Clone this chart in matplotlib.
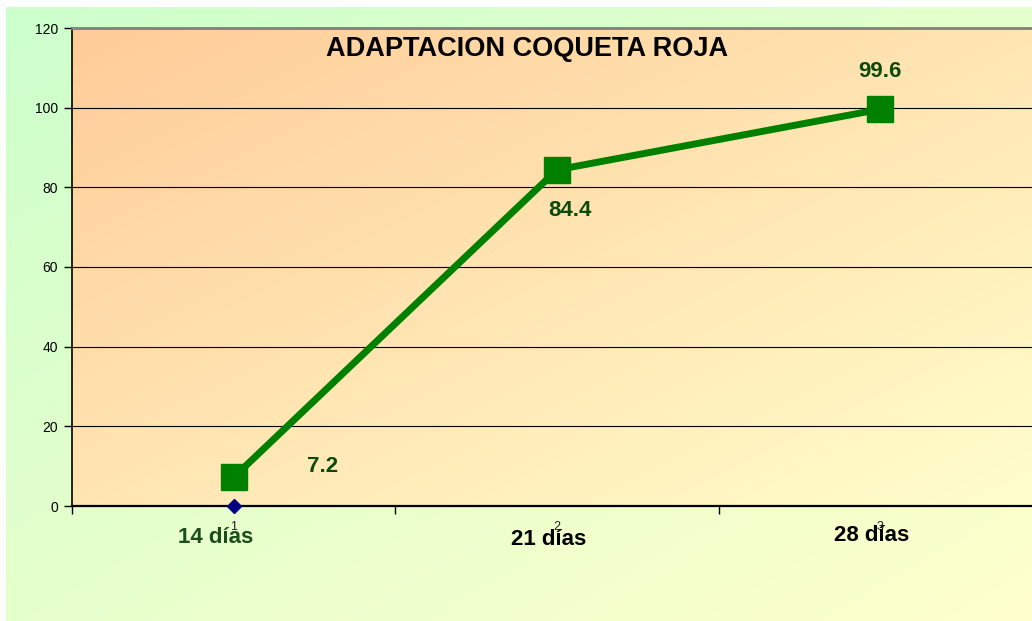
import numpy as np
import matplotlib
matplotlib.use("Agg")
from matplotlib import pyplot as plt
from matplotlib.colors import LinearSegmentedColormap
from matplotlib.transforms import blended_transform_factory

categorias = ["14 días", "21 días", "28 días"]
numeros = ["1", "2", "3"]
adaptacion = [7.2, 84.4, 99.6]
serie_base = [0]
yticks = [0, 20, 40, 60, 80, 100, 120]

plt.rcParams["font.family"] = ["Liberation Sans", "DejaVu Sans"]

fig = plt.figure(figsize=(10.32, 6.21), dpi=100)
fig.patch.set_facecolor("white")


def gradiente(ax, c1, c2):
    # diagonal gradient from top-left to bottom-right
    yy, xx = np.mgrid[0:1:200j, 0:1:200j]
    t = (xx + yy) / 2
    cmap = LinearSegmentedColormap.from_list("g", [c1, c2])
    ax.imshow(t, cmap=cmap, extent=(0, 1, 0, 1), transform=ax.transAxes,
              aspect="auto", zorder=0, interpolation="bicubic")


# outer chart area
bg = fig.add_axes([6 / 1032, 0, 1, (621 - 7) / 621])
bg.set_axis_off()
gradiente(bg, "#ccffcc", "#ffffcc")

# plot area
ax = fig.add_axes([72 / 1032, 115 / 621, 970 / 1032, 478 / 621])
gradiente(ax, "#ffcc99", "#ffffcc")

x = np.arange(1, len(adaptacion) + 1)
ax.plot(x, adaptacion, color="#008000", lw=5, marker="s", ms=19,
        zorder=4, clip_on=False)
ax.plot(x[:len(serie_base)], serie_base, ls="none", marker="D", ms=7,
        color="#000080", zorder=5, clip_on=False)

ax.set_xlim(0.5, 3.5)
ax.set_ylim(0, 120)
ax.set_yticks(yticks)
ax.tick_params(axis="y", labelsize=10, length=6, width=1, direction="out", pad=4)
ax.yaxis.grid(True, color="black", lw=0.8, zorder=1)
ax.set_axisbelow(True)

ax.set_xticks(x)
ax.set_xticklabels(numeros, fontsize=9, color="#222222")
ax.tick_params(axis="x", which="major", length=0, pad=11)
ax.set_xticks([0.5, 1.5, 2.5, 3.5], minor=True)
ax.tick_params(axis="x", which="minor", length=6, width=1, direction="out")

ax.spines["top"].set_color("#808080")
ax.spines["top"].set_linewidth(2)
ax.spines["right"].set_visible(False)
ax.spines["left"].set_linewidth(1.2)
ax.spines["bottom"].set_linewidth(1.6)

ax.set_title("ADAPTACION COQUETA ROJA", fontsize=19.5, fontweight="bold",
             y=0.925, x=(527 - 72) / 970, color="black")

# category labels
trans = blended_transform_factory(ax.transData, ax.transAxes)
cat_offsets = [(-13, -23), (-6, -24), (-6, -21)]
cat_colores = ["#1a4d1a", "black", "black"]
for xi, lab, off, col in zip(x, categorias, cat_offsets, cat_colores):
    ax.annotate(lab, (xi, 0), xycoords=trans, xytext=off,
                textcoords="offset points", ha="center", va="center",
                fontsize=16, fontweight="bold", color=col,
                annotation_clip=False)

# data labels
lab_offsets = [(64, 8), (9, -29), (0, 27)]
for xi, v, off in zip(x, adaptacion, lab_offsets):
    ax.annotate(f"{v}", (xi, v), xytext=off, textcoords="offset points",
                ha="center", va="center", fontsize=16, fontweight="bold",
                color="#0a4a0a", zorder=6)

plt.savefig("out.png", dpi=100)
